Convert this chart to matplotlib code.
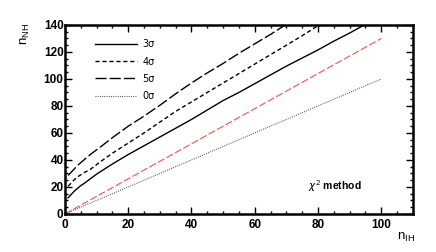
import matplotlib
matplotlib.use("Agg")
import matplotlib.pyplot as plt
from matplotlib.ticker import MultipleLocator

# ---- data ----
x_sig = [1, 2, 3, 4, 5, 6, 8, 10, 12, 15, 20, 25, 30, 35, 40, 45, 50, 55, 60,
         65, 70, 75, 80, 85, 90, 95, 100]
y_3sig = [12, 14.5, 17, 19, 21, 22.5, 26, 29.5, 32.5, 37, 44, 50.5, 57, 63.5,
          70, 77, 84, 90, 96.5, 103, 109.5, 115.5, 121.5, 128, 134, 140.5, 147]
y_4sig = [20.5, 23, 25.5, 27.5, 29, 30.5, 33, 36.5, 40, 45, 52.5, 60, 68, 76,
          83, 90, 97, 104, 111, 118, 125, 132, 139.5, 146.5, 153, 160, 167]
y_5sig = [28.5, 31, 33.5, 36, 38, 40, 44, 47.5, 51, 56.5, 65, 72.5, 80.5, 89,
          97, 104.5, 111.5, 119, 126, 133, 140.5, 147.5, 155, 162, 169, 176, 183]
x_lin = [0, 100]
y_red = [0, 130]
y_0sig = [0, 100]

labels = ["3σ", "4σ", "5σ", "0σ"]

fig = plt.figure(figsize=(4.36, 2.52), dpi=100)
ax = fig.add_axes([0.149, 0.151, 0.798, 0.750])

l3, = ax.plot(x_sig, y_3sig, color="black", lw=1.0, ls="-")
l4, = ax.plot(x_sig, y_4sig, color="black", lw=1.0, ls=(0, (3, 2)))
l5, = ax.plot(x_sig, y_5sig, color="black", lw=1.0, ls=(0, (8, 2.2)))
ax.plot(x_lin, y_red, color="#ff4d4d", lw=0.8, ls=(0, (6.5, 2.2)))
l0, = ax.plot(x_lin, y_0sig, color="#444444", lw=0.8, ls=(0, (0.8, 1.2)))

ax.set_xlim(0, 110)
ax.set_ylim(0, 140)

ax.xaxis.set_major_locator(MultipleLocator(20))
ax.xaxis.set_minor_locator(MultipleLocator(5))
ax.yaxis.set_major_locator(MultipleLocator(20))
ax.yaxis.set_minor_locator(MultipleLocator(5))
ax.tick_params(which="both", direction="in", top=True, right=True, width=1.0)
ax.tick_params(which="major", length=5, labelsize=8.5)
ax.tick_params(which="minor", length=2.5)
ax.tick_params(axis="x", which="major", pad=3.5)
ax.tick_params(axis="y", which="major", pad=1)
ax.set_yticks(range(0, 141, 20))
for lab in ax.get_xticklabels() + ax.get_yticklabels():
    lab.set_fontweight("bold")
    lab.set_family("Liberation Sans")
for s in ax.spines.values():
    s.set_linewidth(1.8)

fig.text(0.058, 0.91, r"$\mathregular{n_{NH}}$", rotation=90, ha="center",
         va="top", fontsize=9.5, family="Liberation Sans")
fig.text(0.93, 0.03, r"$\mathregular{n_{IH}}$", ha="center", va="bottom",
         fontsize=9.5, family="Liberation Sans")

leg = ax.legend([l3, l4, l5, l0], labels, loc="upper left",
                bbox_to_anchor=(0.075, 0.945), borderaxespad=0,
                frameon=False, handlelength=4.3, handletextpad=0.6,
                labelspacing=0.75, prop={"family": "DejaVu Sans", "size": 7})

ax.text(0.775, 0.145, r"$\chi^2$ method", transform=ax.transAxes,
        ha="center", va="center", fontsize=7.5, fontweight="bold",
        family="Liberation Sans")

fig.savefig("out.png", dpi=100)
